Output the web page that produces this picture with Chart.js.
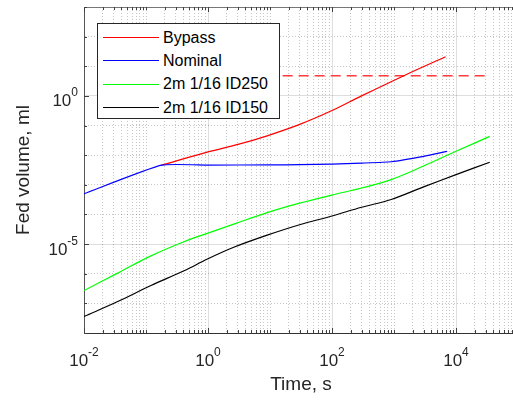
<!DOCTYPE html>
<html>
<head>
<meta charset="utf-8">
<script src="https://cdn.jsdelivr.net/npm/chart.js@4/dist/chart.umd.min.js"></script>
<style>
  html, body { margin: 0; padding: 0; background: #fff; overflow: hidden; width: 513px; height: 401px; }
  #wrap { position: relative; width: 522px; height: 401px; }
  #legend {
    position: absolute; left: 97px; top: 23px; width: 183px; height: 96px;
    box-sizing: border-box; border: 1px solid #262626; background: #fff;
    padding-top: 2px; font: 16px "Liberation Sans", Arial, sans-serif; color: #000;
  }
  #legend .row { height: 23.3px; display: flex; align-items: center; }
  #legend .swatch { width: 56px; margin-left: 5px; margin-right: 4px; border-top: 1.3px solid #000; }
</style>
</head>
<body>
<div id="wrap">
  <canvas id="chart" width="522" height="401"></canvas>
  <div id="legend"></div>
</div>
<script>
// Fed volume (ml) against time (s) for each configuration
const bypassTime    = [0.177, 1, 3.16, 9, 29.5, 100, 300, 1500, 6800];
const bypassVolume  = [4.6e-3, 1.29e-2, 2.35e-2, 4.5e-2, 0.107, 0.32, 1.0, 5.0, 20.9];

const nominalTime   = [0.01, 0.177, 1, 10, 30, 100, 300, 900, 3000, 7200];
const nominalVolume = [5.0e-4, 4.6e-3, 4.65e-3, 4.7e-3, 4.8e-3, 5.0e-3, 5.4e-3, 6.0e-3, 9.1e-3, 1.35e-2];

const tubeTime      = [0.01, 0.035, 0.12, 0.41, 1, 2.6, 9, 30, 100, 300, 900, 3000, 10000, 35000];
const id250Volume   = [2.7e-7, 1.05e-6, 4.0e-6, 1.2e-5, 2.35e-5, 4.7e-5, 1.15e-4, 2.4e-4, 4.5e-4, 7.8e-4, 1.5e-3, 4.3e-3, 1.35e-2, 4.3e-2];
const id150Volume   = [3.6e-8, 1.15e-7, 4.0e-7, 1.26e-6, 3.2e-6, 7.8e-6, 2.0e-5, 4.5e-5, 8.9e-5, 1.75e-4, 3.2e-4, 8.5e-4, 2.2e-3, 5.8e-3];

// horizontal dashed reference level
const limitTime     = [16, 30000];
const limitVolume   = [4.8, 4.8];

// labelled decades (exponents of ten)
const xTickPowers = [-2, 0, 2, 4];
const yTickPowers = [-5, 0];

const X_MIN = 1e-2, X_MAX = 1e5, Y_MIN = 1e-8, Y_MAX = 1e3;

const pts = (xs, ys) => xs.map((x, i) => ({ x: x, y: ys[i] }));

// grid positions: every 1..9 x 10^n on time axis, every decade on volume axis
const xGrid = [];
for (let n = -2; n <= 4; n++) for (let k = 1; k <= 9; k++) xGrid.push(k * Math.pow(10, n));
xGrid.push(1e5);
const yGrid = [];
for (let n = -8; n <= 3; n++) yGrid.push(Math.pow(10, n));

const isMajor = (v, powers) => powers.some(p => Math.abs(Math.log10(v) - p) < 1e-6);

const TXT = '#262626';
const FONT = '"Liberation Sans", Arial, sans-serif';

// inward tick marks and superscripted decade labels
const axisDecor = {
  id: 'axisDecor',
  afterDraw(chart) {
    const { ctx, chartArea: a, scales } = chart;
    const sx = scales.x, sy = scales.y;
    ctx.save();
    ctx.strokeStyle = '#404040';
    ctx.lineWidth = 1;
    ctx.beginPath();
    xGrid.forEach(v => {
      const px = Math.round(sx.getPixelForValue(v)) + 0.5;
      const len = isMajor(v, xTickPowers) ? 5 : 3;
      ctx.moveTo(px, a.bottom); ctx.lineTo(px, a.bottom - len);
      ctx.moveTo(px, a.top); ctx.lineTo(px, a.top + len);
    });
    yGrid.forEach(v => {
      const py = Math.round(sy.getPixelForValue(v)) + 0.5;
      const len = isMajor(v, yTickPowers) ? 5 : 3;
      ctx.moveTo(a.left, py); ctx.lineTo(a.left + len, py);
    });
    ctx.stroke();

    ctx.fillStyle = TXT;
    ctx.textBaseline = 'alphabetic';
    const base = '17px ' + FONT, sup = '12px ' + FONT;
    const measure = (e) => {
      ctx.font = base; const w1 = ctx.measureText('10').width;
      ctx.font = sup; const w2 = ctx.measureText(String(e)).width;
      return [w1, w2];
    };
    const draw = (e, left, baseY) => {
      const [w1] = measure(e);
      ctx.font = base; ctx.textAlign = 'left'; ctx.fillText('10', left, baseY);
      ctx.font = sup; ctx.fillText(String(e), left + w1, baseY - 10);
    };
    xTickPowers.forEach(e => {
      const px = sx.getPixelForValue(Math.pow(10, e));
      const [w1, w2] = measure(e);
      draw(e, px - (w1 + w2) / 2, a.bottom + 33);
    });
    yTickPowers.forEach(e => {
      const py = sy.getPixelForValue(Math.pow(10, e));
      const [w1, w2] = measure(e);
      draw(e, a.left - 6 - (w1 + w2), py + 10.5);
    });
    ctx.restore();
  }
};

const gridColor = (powers) => (c) =>
  (c.tick && isMajor(c.tick.value, powers)) ? 'rgba(0,0,0,0.13)' : 'rgba(0,0,0,0.22)';
const gridDash = (powers) => (c) =>
  (c.tick && isMajor(c.tick.value, powers)) ? [] : [1, 2];

const line = (label, color, data, extra) => Object.assign({
  label: label, data: data, borderColor: color, backgroundColor: color,
  borderWidth: 1.2, pointRadius: 0, fill: false, tension: 0.35
}, extra || {});

const chart = new Chart(document.getElementById('chart'), {
  type: 'line',
  data: {
    datasets: [
      line('2m 1/16 ID150', '#000000', pts(tubeTime, id150Volume)),
      line('2m 1/16 ID250', '#00ff00', pts(tubeTime, id250Volume)),
      line('Nominal', '#0000ff', pts(nominalTime, nominalVolume), { tension: 0.15 }),
      line('Bypass', '#ff0000', pts(bypassTime, bypassVolume)),
      line('', '#ff3b3b', pts(limitTime, limitVolume), { borderDash: [10, 6], borderWidth: 1.6, tension: 0 })
    ]
  },
  options: {
    responsive: false,
    animation: false,
    devicePixelRatio: 1,
    layout: { padding: { top: 7, right: 4, left: 0, bottom: 0 } },
    plugins: { legend: { display: false }, tooltip: { enabled: false } },
    scales: {
      x: {
        type: 'logarithmic', position: 'bottom', min: X_MIN, max: X_MAX,
        afterBuildTicks: (s) => { s.ticks = xGrid.map(v => ({ value: v })); },
        ticks: { display: false },
        grid: { color: gridColor(xTickPowers), lineWidth: 1, drawTicks: false },
        border: { display: true, color: '#333333', width: 1, dash: gridDash(xTickPowers) },
        title: { display: true, text: 'Time, s', color: TXT,
                 font: { family: FONT, size: 19 }, padding: { top: 40.6, bottom: 4.6 } }
      },
      xTop: {
        type: 'logarithmic', axis: 'x', position: 'top', min: X_MIN, max: X_MAX,
        ticks: { display: false },
        grid: { display: false, drawTicks: false },
        border: { display: true, color: '#777777', width: 1 }
      },
      y: {
        type: 'logarithmic', position: 'left', min: Y_MIN, max: Y_MAX,
        afterBuildTicks: (s) => { s.ticks = yGrid.map(v => ({ value: v })); },
        ticks: { display: false },
        grid: { color: gridColor(yTickPowers), lineWidth: 1, drawTicks: false },
        border: { display: true, color: '#555555', width: 1, dash: gridDash(yTickPowers) },
        title: { display: true, text: 'Fed volume, ml', color: TXT,
                 font: { family: FONT, size: 19 }, padding: { top: 12.6, bottom: 48.6 } }
      }
    }
  },
  plugins: [axisDecor]
});

// legend box listing the named curves in plotting order
const legendOrder = ['Bypass', 'Nominal', '2m 1/16 ID250', '2m 1/16 ID150'];
const legendEl = document.getElementById('legend');
legendOrder.forEach(name => {
  const ds = chart.data.datasets.find(d => d.label === name);
  const row = document.createElement('div');
  row.className = 'row';
  const sw = document.createElement('span');
  sw.className = 'swatch';
  sw.style.borderTopColor = ds.borderColor;
  const tx = document.createElement('span');
  tx.textContent = name;
  row.appendChild(sw); row.appendChild(tx);
  legendEl.appendChild(row);
});
</script>
</body>
</html>
